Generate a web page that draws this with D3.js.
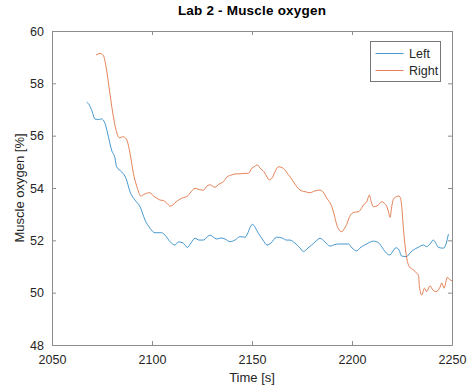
<!DOCTYPE html>
<html><head><meta charset="utf-8">
<script src="https://cdn.jsdelivr.net/npm/d3@7"></script>
<style>body{margin:0;background:#fff}svg{display:block}text{font-family:"Liberation Sans",Arial,sans-serif}</style>
</head><body><svg id="c" width="468" height="389"></svg>
<script>
const title = "Lab 2 - Muscle oxygen";
const xLabel = "Time [s]";
const yLabel = "Muscle oxygen [%]";
const seriesNames = ["Left", "Right"];
const xTicks = [2050, 2100, 2150, 2200, 2250];
const yTicks = [48, 50, 52, 54, 56, 58, 60];

const leftTime = [2067.4,2068.7,2070,2071.5,2073.3,2074.8,2076.5,2078.2,2079.8,2081.5,2082.3,2084.8,2087,2089,2091.5,2094,2096.5,2099,2101.5,2104.8,2106.5,2109,2111.5,2113.2,2115.7,2117.7,2119.5,2121.5,2123.5,2125.7,2129,2132.3,2134.5,2136.5,2139,2141.5,2144,2146.5,2150.2,2153.2,2155.5,2157.5,2159.5,2162.3,2165,2167.3,2169,2171.5,2174,2175.7,2178,2179.8,2182,2184,2186.5,2189,2191.5,2193.2,2196.5,2198.2,2200,2202.3,2204.5,2207.3,2210.7,2213.2,2215,2216.5,2219,2220.5,2222,2223.5,2224.8,2227.3,2229,2230.7,2233,2235.7,2237.3,2239,2240.7,2242,2243.2,2245.7,2247,2248.2];
const leftValue = [57.28,57.17,56.94,56.63,56.62,56.64,56.47,55.96,55.45,55.14,54.81,54.62,54.37,53.86,53.54,53.29,52.78,52.46,52.29,52.29,52.2,51.95,51.82,51.94,51.89,51.73,51.9,52.08,52.01,52.01,52.2,52.05,52.09,52.05,51.95,52.01,52.14,52.12,52.61,52.27,52.01,51.82,51.9,52.12,52.09,52.01,52.01,51.89,51.71,51.57,51.71,51.82,51.97,52.08,51.94,51.78,51.84,51.86,51.86,51.86,51.71,51.6,51.74,51.86,51.97,51.91,51.74,51.57,51.44,51.59,51.72,51.63,51.4,51.38,51.52,51.63,51.73,51.82,51.76,51.86,52.01,51.88,51.73,51.7,51.86,52.24];

const rightTime = [2072,2074,2075.7,2077,2078.7,2080.4,2082,2083.7,2085.4,2087.2,2089,2090.7,2092.7,2094.4,2095.8,2097.4,2099,2100.5,2102.4,2104,2105.7,2107.5,2109,2110.5,2111.5,2113.3,2114.9,2116.5,2117.7,2119.5,2121.5,2123.5,2125.7,2127.5,2129,2131.5,2133.5,2135.7,2137.5,2139.9,2142,2144,2146,2148.2,2150,2151,2152.7,2154,2156,2157.5,2158.7,2160,2161.5,2163.2,2165.7,2168.2,2169.5,2170.7,2172.5,2174,2176.5,2179,2181.5,2184,2185.5,2187.4,2189.9,2191,2192.4,2193.5,2194.9,2196,2197.4,2198.5,2199.9,2201.5,2203.2,2204.5,2205.7,2207.4,2208.7,2209.5,2210.7,2212.5,2214.9,2216,2217.4,2218.3,2219,2220,2220.7,2222,2223.2,2224,2224.8,2225.7,2226.5,2227.4,2228.7,2230.7,2232.4,2233.3,2233.7,2234.9,2236.2,2237.4,2239,2240.4,2242,2244,2244.9,2246,2247.7,2248.8,2250];
const rightValue = [59.08,59.14,59.06,58.64,57.75,56.86,56.22,55.92,55.96,55.87,55.33,54.56,53.99,53.69,53.75,53.8,53.82,53.71,53.61,53.54,53.52,53.41,53.31,53.35,53.44,53.54,53.61,53.65,53.69,53.85,53.99,53.94,53.92,54.08,54.12,54.03,54.15,54.24,54.42,54.5,54.54,54.54,54.56,54.56,54.76,54.81,54.88,54.76,54.62,54.42,54.31,54.38,54.62,54.81,54.75,54.5,54.38,54.24,54.04,53.92,53.86,53.82,53.89,53.92,53.85,53.61,53.29,53.01,52.59,52.4,52.33,52.43,52.62,52.85,53.03,53.08,53.09,53.2,53.35,53.48,53.73,53.5,53.29,53.31,53.48,53.43,53.29,53.08,52.88,53.35,53.57,53.66,53.69,53.66,53.35,52.46,51.82,51.31,50.99,50.87,50.74,50.64,50.23,49.91,50.17,50.04,50.26,50.1,50.04,50.21,50.37,50.17,50.59,50.5,50.46];

const colors = ["#0072BD", "#D95319"];
const W = 468, H = 389;
const m = {l: 52, r: 16, t: 31, b: 44};
const svg = d3.select("#c");
const x = d3.scaleLinear().domain([2050, 2250]).range([m.l, W - m.r]);
const y = d3.scaleLinear().domain([48, 60]).range([H - m.b, m.t]);
const axisCol = "#8c8c8c", textCol = "#262626";

const lines = [[leftTime, leftValue], [rightTime, rightValue]];
const line = d3.line().x(d => x(d[0])).y(d => y(d[1])).curve(d3.curveMonotoneX);
lines.forEach((s, i) => {
  const pts = s[0].map((t, k) => [t, s[1][k]]);
  svg.append("path").datum(pts).attr("d", line).attr("fill", "none")
    .attr("stroke", colors[i]).attr("stroke-width", 1).attr("stroke-opacity", 0.72);
});

function styleAxis(g, showLabels) {
  g.select(".domain").attr("stroke", axisCol).attr("stroke-width", 1);
  g.selectAll(".tick line").attr("stroke", axisCol);
  g.selectAll(".tick text").attr("fill", textCol).style("font-size", "12.5px").style("font-family", '"Liberation Sans",Arial,sans-serif');
  if (!showLabels) g.selectAll(".tick text").remove();
}
const xb = svg.append("g").attr("transform", `translate(0,${y(48)})`)
  .call(d3.axisBottom(x).tickValues(xTicks).tickSize(-4).tickPadding(10).tickSizeOuter(0).tickFormat(d3.format("d")));
styleAxis(xb, true);
const xt = svg.append("g").attr("transform", `translate(0,${y(60)})`)
  .call(d3.axisTop(x).tickValues(xTicks).tickSize(-4).tickSizeOuter(0));
styleAxis(xt, false);
const yl = svg.append("g").attr("transform", `translate(${x(2050)},0)`)
  .call(d3.axisLeft(y).tickValues(yTicks).tickSize(-4).tickPadding(8).tickSizeOuter(0));
styleAxis(yl, true);
const yr = svg.append("g").attr("transform", `translate(${x(2250)},0)`)
  .call(d3.axisRight(y).tickValues(yTicks).tickSize(-4).tickSizeOuter(0));
styleAxis(yr, false);

svg.append("text").attr("x", (x(2050) + x(2250)) / 2).attr("y", 15).attr("text-anchor", "middle")
  .style("font-size", "13.5px").style("font-weight", "bold").style("letter-spacing", "0.2px").attr("fill", "#000").text(title);
svg.append("text").attr("x", (x(2050) + x(2250)) / 2).attr("y", 382).attr("text-anchor", "middle")
  .style("font-size", "13px").attr("fill", textCol).text(xLabel);
svg.append("text").attr("transform", `translate(24,${(y(48) + y(60)) / 2}) rotate(-90)`).attr("text-anchor", "middle")
  .style("font-size", "13px").attr("fill", textCol).text(yLabel);

// legend
const lg = svg.append("g");
lg.append("rect").attr("x", 370.5).attr("y", 41.5).attr("width", 70).attr("height", 40)
  .attr("fill", "#fff").attr("stroke", "#777").attr("stroke-width", 1);
seriesNames.forEach((n, i) => {
  const yy = 53.5 + i * 17;
  lg.append("line").attr("x1", 375.5).attr("x2", 403.5).attr("y1", yy).attr("y2", yy)
    .attr("stroke", colors[i]).attr("stroke-width", 1).attr("stroke-opacity", 0.72);
  lg.append("text").attr("x", 409).attr("y", yy + 4.5).style("font-size", "12.5px").attr("fill", textCol).text(n);
});
</script></body></html>
